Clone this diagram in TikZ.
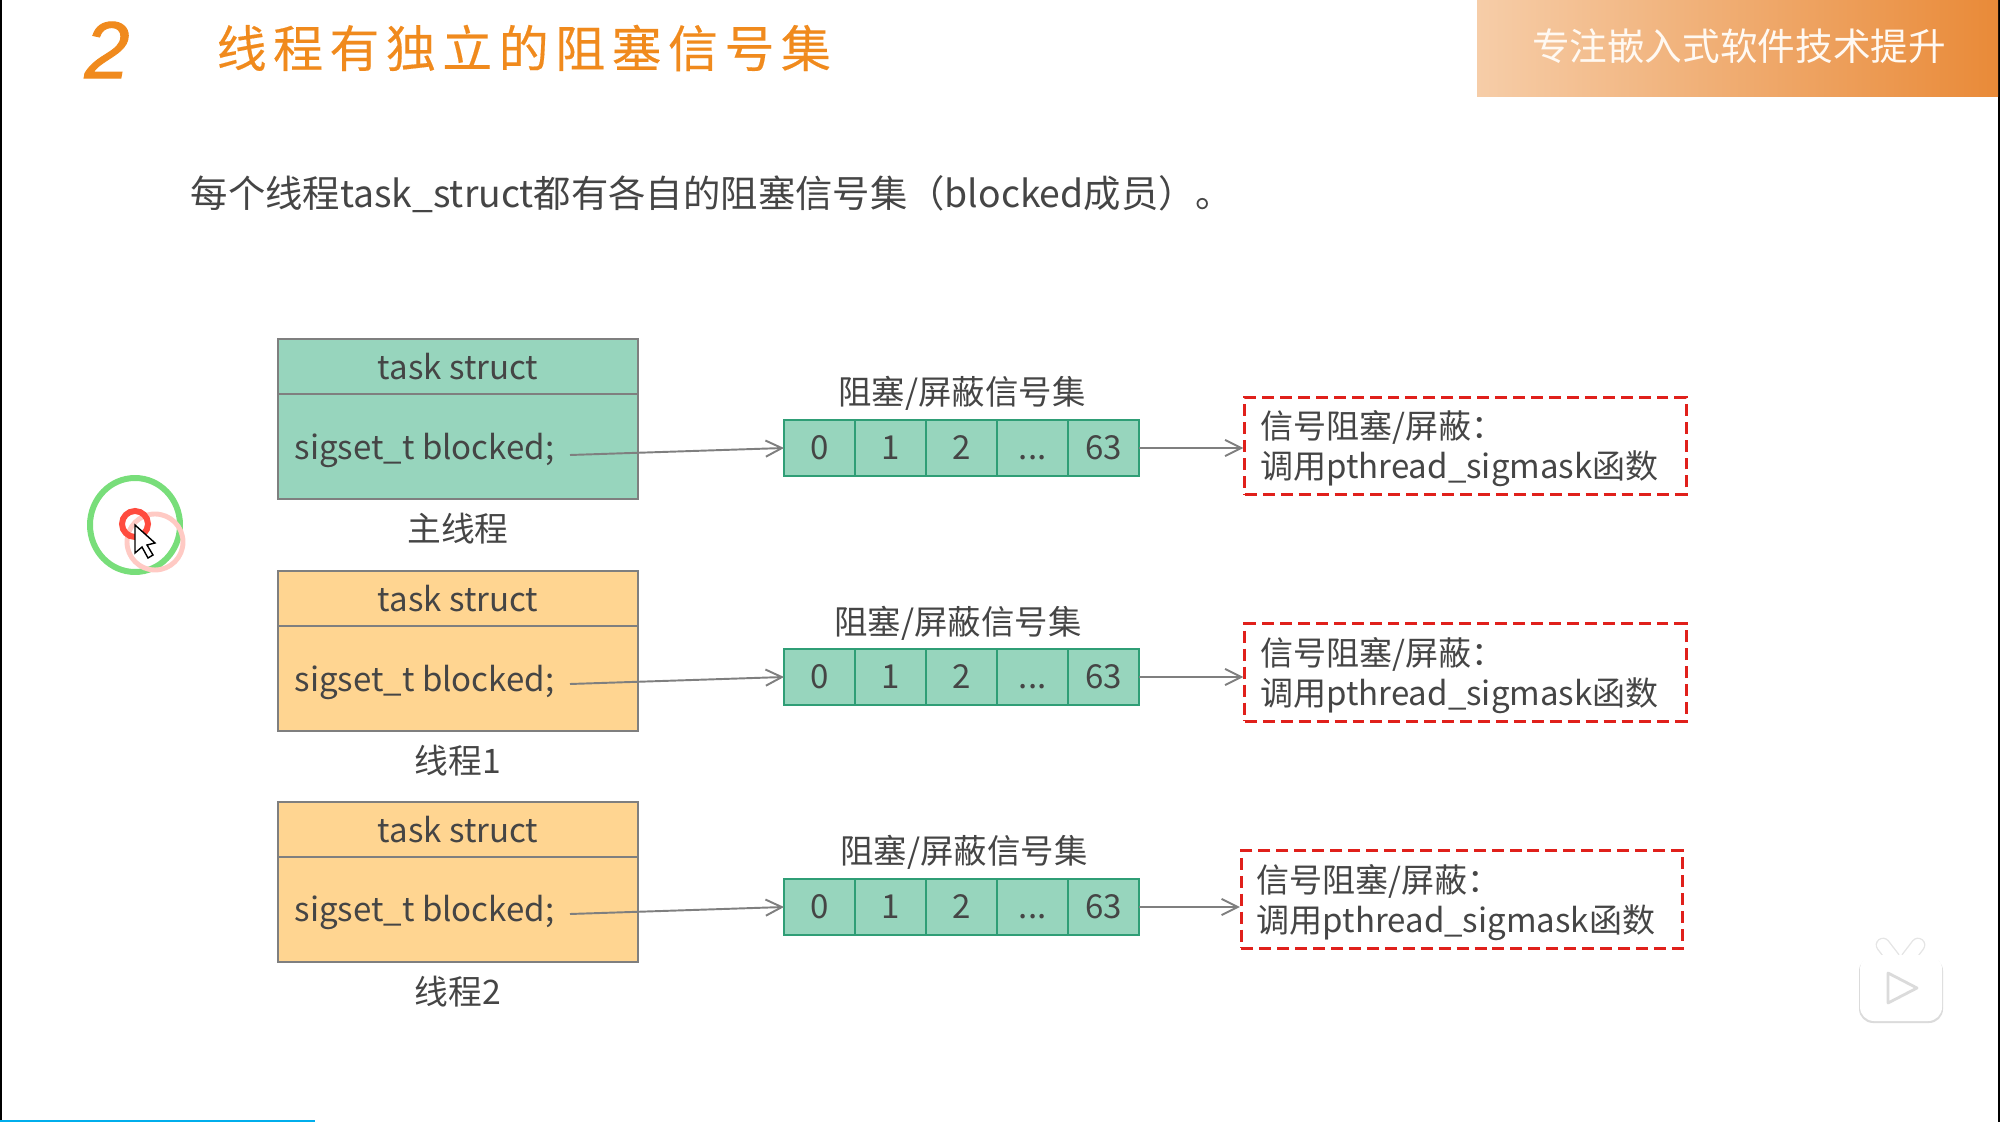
\documentclass[tikz,border=0pt]{standalone}
\usepackage{fontspec}
\setmainfont{Noto Sans CJK SC}
\newfontfamily\numfont{Liberation Sans}
\usetikzlibrary{arrows.meta}
\usetikzlibrary{positioning}
\definecolor{titleorange}{HTML}{F08A1D}
\definecolor{bodytext}{HTML}{454545}
\definecolor{boxgreen}{HTML}{97D5BD}
\definecolor{boxorange}{HTML}{FFD591}
\definecolor{cellline}{HTML}{2F9E76}
\definecolor{linegray}{HTML}{7F7F7F}
\definecolor{dashred}{HTML}{E0201B}
\definecolor{barblue}{HTML}{00AEEC}
\definecolor{bannerleft}{HTML}{F6CDA8}
\definecolor{bannermid}{HTML}{F1BA88}
\definecolor{bannerright}{HTML}{E98A38}
\definecolor{ringgreen}{HTML}{78DE7A}
\definecolor{ringred}{HTML}{FF4B3E}
\definecolor{ringpale}{HTML}{FFCAC4}
\tikzset{
	every node/.style={text=bodytext,font=\fontsize{9.4}{11.4}\selectfont},
	taskhead/.style={draw=linegray,line width=0.5pt,minimum width=3.6cm,minimum height=0.55cm,inner sep=0pt,outer sep=0pt},
	taskbody/.style={draw=linegray,line width=0.5pt,minimum width=3.6cm,minimum height=1.05cm,inner sep=0pt,outer sep=0pt},
	cell/.style={draw=cellline,fill=boxgreen,line width=0.65pt,minimum width=0.71cm,minimum height=0.56cm,inner sep=0pt,outer sep=0pt,text height=6.8pt,text depth=0pt},
	note/.style={draw=dashred,line width=0.85pt,dash pattern=on 3.4pt off 1.7pt,minimum width=4.41cm,minimum height=0.97cm,inner sep=0pt},
	notetext/.style={align=left,inner sep=0pt},
	pointer/.style={draw=linegray,line width=0.55pt,-{Straight Barb[length=4.6pt,width=4.6pt]}},
}
\begin{document}
\begin{tikzpicture}[x=0.01cm,y=-0.01cm]
	\useasboundingbox (0,0) rectangle (2000,1122);
	\fill[black] (0,0) rectangle (2,1122);
	\fill[black] (1998,0) rectangle (2000,1122);
	\fill[barblue] (0,1120) rectangle (315,1122);
	
	\shade[left color=bannerleft,middle color=bannermid,right color=bannerright] (1477,0) rectangle (1998,97);
	\node[font=\fontsize{10.7}{12}\selectfont,text=white!95!orange] (slogan) at (1739,46) {专注嵌入式软件技术提升};
	
	\node[font=\fontsize{23}{24}\numfont\itshape\addfontfeature{FakeBold=1.2},text=titleorange] (num) at (107,50) {2};
	\node[anchor=west,inner sep=0pt,font=\fontsize{14.2}{16}\selectfont\addfontfeature{LetterSpace=13,FakeBold=0.3},text=titleorange] (title) at (216,48) {线程有独立的阻塞信号集};
	\node[anchor=west,inner sep=0pt,font=\fontsize{10.62}{12}\selectfont] (intro) at (190,194) {每个线程task\_struct都有各自的阻塞信号集（blocked成员）。};
	
	\foreach \r/\top/\cy/\fy/\col/\who/\arrx/\arry/\nx/\ny in {
		1/339/448/450/boxgreen/主线程/962/393/1465.5/446,
		2/571/677/682/boxorange/线程1/958/623/1465.5/672.5,
		3/802/907/912/boxorange/线程2/964/852/1462/899.5}
	{
		\node[taskhead,fill=\col,anchor=north west] (head\r) at (278,\top) {task struct};
		\node[taskbody,fill=\col,below=0pt of head\r] (body\r) {};
		\node[anchor=west,inner sep=0pt] (field\r) at (294,\fy) {sigset\_t blocked;};
		\node[below=0.02cm of body\r,font=\fontsize{9.6}{11.4}\selectfont] (who\r) {\who};
		
		\node[cell] (a\r) at (819.5,\cy) {0};
		\node[cell,right=0pt of a\r] (b\r) {1};
		\node[cell,right=0pt of b\r] (c\r) {2};
		\node[cell,right=0pt of c\r] (d\r) {...};
		\node[cell,right=0pt of d\r] (e\r) {63};
		\node[font=\fontsize{9.5}{11.4}\selectfont] (set\r) at (\arrx,\arry) {阻塞/屏蔽信号集};
		
		\node[note] (note\r) at (\nx,\ny) {};
		\node[notetext,anchor=west] (tip\r) at ([xshift=0.16cm,yshift=-0.03cm]note\r.west) {信号阻塞/屏蔽：\\调用pthread\_sigmask函数};
		
		\coordinate (from\r) at (570,\cy+7);
		\draw[pointer] (from\r) -- (a\r.west);
		\draw[pointer] (e\r.east) -- (e\r.east -| note\r.west);
	}
	
	% cursor marks
	\draw[ringgreen,line width=1.7pt] (135,525) ellipse (45 and 47);
	\draw[ringpale,line width=1.4pt] (155,542) circle (28);
	\draw[ringred,line width=1.7pt] (135,524) circle (13);
	\draw[fill=white,line width=0.4pt] (135,525) -- (135,553) -- (142,547) -- (148,558) -- (153,555) -- (147,545) -- (155,543) -- cycle;
	
	% video badge
	\draw[black!10,line width=4.2pt,line cap=round] (1883,945) -- (1893,958) (1918,945) -- (1908,958);
	\draw[white,line width=3.4pt,line cap=round] (1883,945) -- (1893,958) (1918,945) -- (1908,958);
	\fill[black!14,rounded corners=0.14cm] (1859,957) rectangle (1943,1023);
	\fill[white,rounded corners=0.14cm] (1860,955) rectangle (1942,1021);
	\draw[black!14,line width=0.8pt,line join=round,fill=white] (1888,973) -- (1917,988) -- (1888,1003) -- cycle;
\end{tikzpicture}
\end{document}
